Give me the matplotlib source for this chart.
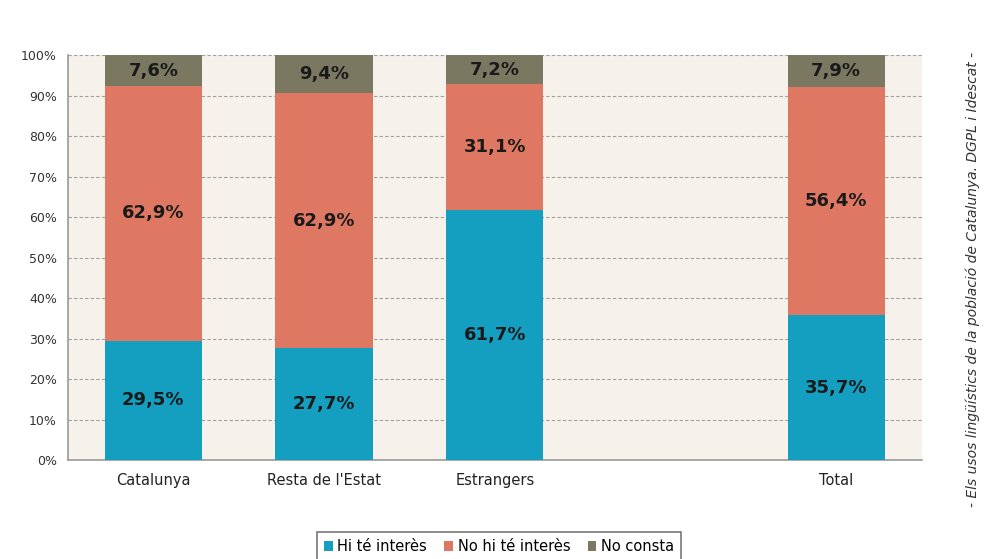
import numpy as np
import matplotlib.pyplot as plt

categories = ['Catalunya', "Resta de l'Estat", 'Estrangers', 'Total']
positions = [0, 1, 2, 4]
hi_te = [29.5, 27.7, 61.7, 35.7]
no_hi_te = [62.9, 62.9, 31.1, 56.4]
no_consta = [7.6, 9.4, 7.2, 7.9]
series_names = ['Hi té interès', 'No hi té interès', 'No consta']
colors = ['#149FC0', '#DF7862', '#7A7861']

fig = plt.figure(figsize=(9.88, 5.59), dpi=100)
ax = fig.add_axes([0.0688, 0.177, 0.864, 0.7244])
ax.set_facecolor('#F6F1EB')

bottom = np.zeros(len(categories))
for vals, name, col in zip([hi_te, no_hi_te, no_consta], series_names, colors):
    vals = np.array(vals)
    ax.bar(positions, vals, 0.57, bottom=bottom, color=col, label=name, zorder=3)
    for x, v, b in zip(positions, vals, bottom):
        ax.text(x, b + v / 2, ('%.1f%%' % v).replace('.', ','), ha='center', va='center',
                fontsize=13, fontweight='bold', color='#1a1a1a', zorder=4)
    bottom += vals

ax.set_xlim(-0.5, 4.5)
ax.set_ylim(0, 100)
ax.set_yticks(np.arange(0, 101, 10))
ax.set_yticklabels(['%d%%' % v for v in range(0, 101, 10)], fontsize=9, color='#333333')
ax.set_xticks(positions)
ax.set_xticklabels(categories, fontsize=10.5, color='#222222')
ax.tick_params(length=0, pad=8)
ax.tick_params(axis='x', pad=9)
ax.yaxis.grid(True, linestyle=(0, (3, 2)), color='#A0A0A0', linewidth=0.8, zorder=0)
for s in ['top', 'right']:
    ax.spines[s].set_visible(False)
for s in ['left', 'bottom']:
    ax.spines[s].set_color('#999999')
    ax.spines[s].set_linewidth(1.2)

leg = fig.legend(loc='center', bbox_to_anchor=(0.505, 0.022), ncol=3, fontsize=10.5,
                 frameon=True, fancybox=False, edgecolor='#555555', handlelength=0.6,
                 handleheight=0.6, handletextpad=0.3, columnspacing=1.2, borderpad=0.5)
leg.get_frame().set_linewidth(1.2)

fig.text(0.985, 0.5, '- Els usos lingüístics de la població de Catalunya. DGPL i Idescat -',
         rotation=90, ha='center', va='center', fontsize=10, style='italic', color='#333333')

fig.savefig('out.png', dpi=100)
